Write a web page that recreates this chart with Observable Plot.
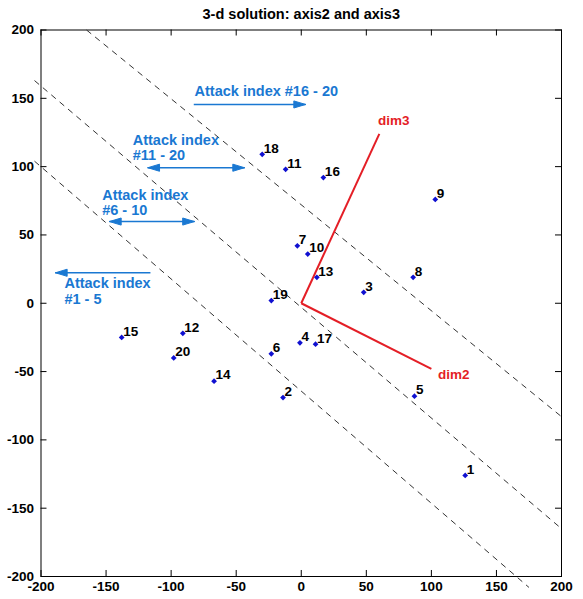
<!DOCTYPE html>
<html>
<head>
<meta charset="utf-8">
<script src="https://cdn.jsdelivr.net/npm/d3@7"></script>
<script src="https://cdn.jsdelivr.net/npm/@observablehq/plot@0.6"></script>
<style>
  html, body { margin: 0; padding: 0; background: #fff; }
</style>
</head>
<body>
<div id="chart"></div>
<script>
// Attack scores on the second and third axes of the 3-d solution
const attackIds = [1, 2, 3, 4, 5, 6, 7, 8, 9, 10, 11, 12, 13, 14, 15, 16, 17, 18, 19, 20];
const axis2 = [126, -14, 48, -1, 87, -23, -3, 86, 103, 5, -12, -91, 12, -67, -138, 17, 11, -30, -23, -98];
const axis3 = [-126, -69, 8, -29, -68, -37, 42, 19, 76, 36, 98, -22, 19, -57, -25, 92, -30, 109, 2, -40];

// Tick values shared by both axes
const tickValues = [-200, -150, -100, -50, 0, 50, 100, 150, 200];

// Dimension vectors drawn from the origin
const dimNames = ["dim2", "dim3"];
const dimX = [100, 60];
const dimY = [-48, 124];
const dimLabelX = [105, 59];
const dimLabelY = [-52, 134];

// Dashed boundaries between attack-index groups
const boundaryX1 = [-165, -205, -205];
const boundaryY1 = [200, 163, 104];
const boundaryX2 = [200, 200, 175];
const boundaryY2 = [-83, -165, -208];

// Group annotations: text lines and arrows
const noteLines = ["Attack index #16 - 20", "Attack index", "#11 - 20", "Attack index", "#6 - 10", "Attack index", "#1 - 5"];
const noteX = [-82, -129.5, -129.5, -153, -153, -182, -182];
const noteY = [155, 119, 108, 79, 68, 14.5, 2.7];
const arrowFrom = [-82.6, -117.9, -147.4, -115.9];
const arrowTo = [3.3, -43.6, -82.1, -188.9];
const arrowY = [145.5, 99.2, 59.8, 22.3];
const arrowDouble = [false, true, true, false];

const titleText = "3-d solution: axis2 and axis3";

const blue = "#1a78d2";
const red = "#e41e26";

const points = attackIds.map((id, i) => ({id, x: axis2[i], y: axis3[i]}));
const dims = dimNames.map((name, i) => ({name, x: dimX[i], y: dimY[i], lx: dimLabelX[i], ly: dimLabelY[i]}));
const boundaries = boundaryX1.map((x1, i) => ({x1, y1: boundaryY1[i], x2: boundaryX2[i], y2: boundaryY2[i]}));
const notes = noteLines.map((text, i) => ({text, x: noteX[i], y: noteY[i]}));
const arrows = arrowFrom.map((x1, i) => ({x1, x2: arrowTo[i], y: arrowY[i], both: arrowDouble[i]}));

// Filled arrowheads, as small triangles in data units
const headLen = 9, headHalf = 2.6;
const heads = [];
arrows.forEach((a, i) => {
  const tips = [[a.x2, Math.sign(a.x2 - a.x1)]];
  if (a.both) tips.push([a.x1, Math.sign(a.x1 - a.x2)]);
  tips.forEach(([tx, dir], j) => {
    const key = i + "-" + j;
    heads.push({key, x: tx, y: a.y});
    heads.push({key, x: tx - dir * headLen, y: a.y + headHalf});
    heads.push({key, x: tx - dir * headLen, y: a.y - headHalf});
    heads.push({key, x: tx, y: a.y});
  });
});

// Inward tick marks on all four sides of the box
const tickLenX = 4.6, tickLenY = 4.4;

const chart = Plot.plot({
  width: 583,
  height: 599,
  marginLeft: 40.5,
  marginRight: 22,
  marginTop: 29.5,
  marginBottom: 23,
  style: {fontFamily: "'Liberation Sans', Arial, sans-serif", fontSize: "13.5px", fontWeight: "bold", background: "white", color: "black"},
  x: {domain: [-200, 200], ticks: tickValues, tickSize: 0, tickPadding: 5, label: null, tickFormat: d => String(d)},
  y: {domain: [-200, 200], ticks: tickValues, tickSize: 0, tickPadding: 7, label: null, tickFormat: d => String(d)},
  marks: [
    Plot.ruleX(tickValues, {x: d => d, y1: -200, y2: -200 + tickLenY, stroke: "black"}),
    Plot.ruleX(tickValues, {x: d => d, y1: 200, y2: 200 - tickLenY, stroke: "black"}),
    Plot.ruleY(tickValues, {y: d => d, x1: -200, x2: -200 + tickLenX, stroke: "black"}),
    Plot.ruleY(tickValues, {y: d => d, x1: 200, x2: 200 - tickLenX, stroke: "black"}),
    Plot.frame({stroke: "black"}),
    Plot.link(boundaries, {x1: "x1", y1: "y1", x2: "x2", y2: "y2", stroke: "#333", strokeWidth: 1, strokeDasharray: "6,5", clip: false}),
    Plot.link(dims, {x1: 0, y1: 0, x2: "x", y2: "y", stroke: red, strokeWidth: 2}),
    Plot.text(dims, {x: "lx", y: "ly", text: "name", fill: red, textAnchor: "start", fontSize: 13.5}),
    Plot.link(arrows, {x1: "x1", x2: "x2", y1: "y", y2: "y", stroke: blue, strokeWidth: 1.6}),
    Plot.line(heads, {x: "x", y: "y", z: "key", fill: blue, stroke: blue, strokeWidth: 1, curve: "linear"}),
    Plot.text(notes, {x: "x", y: "y", text: "text", fill: blue, textAnchor: "start", fontSize: 14.5}),
    Plot.dot(points, {x: "x", y: "y", symbol: "diamond2", r: 2.6, fill: "#1010d0", stroke: null}),
    Plot.text(points, {x: "x", y: "y", text: d => String(d.id), textAnchor: "start", dx: 1.5, dy: -6, fontSize: 13.5, fill: "black"}),
    Plot.text([titleText], {frameAnchor: "top", dy: -21, fontSize: 14.5, fill: "black"})
  ]
});

document.getElementById("chart").appendChild(chart);
</script>
</body>
</html>
